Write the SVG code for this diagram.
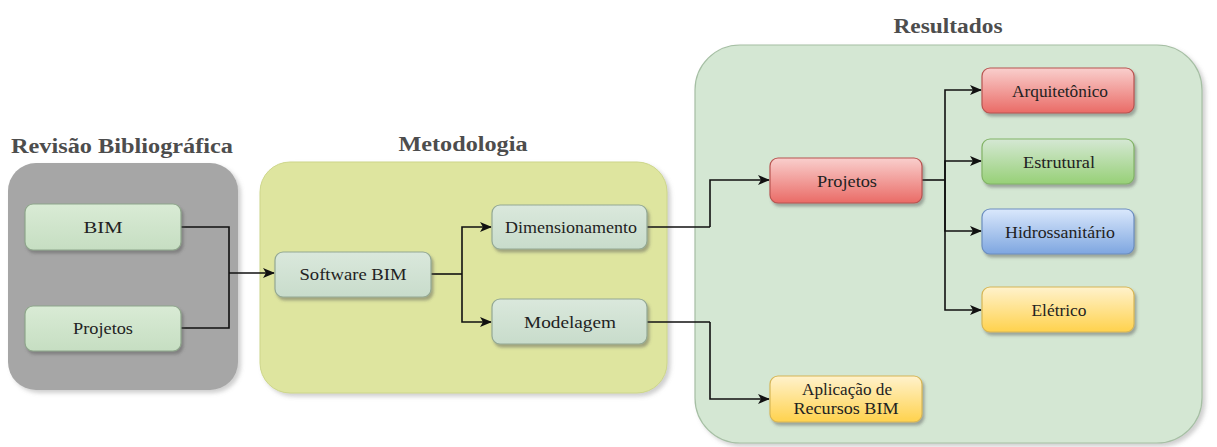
<svg xmlns="http://www.w3.org/2000/svg" width="1217" height="447" viewBox="0 0 1217 447">
  <defs>
    <style>
      .title { font-family: "Liberation Serif", "DejaVu Serif", serif; font-weight: bold; font-size: 20px; fill: #4d4d4d; text-anchor: middle; }
      .lbl { font-family: "Liberation Serif", "DejaVu Serif", serif; font-weight: normal; font-size: 17px; fill: #222222; text-anchor: middle; }
      .node { filter: url(#shadow); stroke-width: 1.2; }
      .pale { fill: url(#gPale); stroke: #8ea58b; }
      .paleb { fill: url(#gPaleB); stroke: #93a893; }
      .red { fill: url(#gRed); stroke: #b85450; }
      .green { fill: url(#gGreen); stroke: #82b366; }
      .blue { fill: url(#gBlue); stroke: #6c8ebf; }
      .yellow { fill: url(#gYellow); stroke: #d6b656; }
      .wire { fill: none; stroke: #111; stroke-width: 1.6; }
      .arrow { marker-end: url(#arrowHead); }
    </style>
    <filter id="shadow" x="-10%" y="-20%" width="130%" height="160%">
      <feDropShadow dx="2" dy="3" stdDeviation="1.5" flood-color="#555" flood-opacity="0.45"/>
    </filter>
    <filter id="softShadow" x="-5%" y="-5%" width="115%" height="115%">
      <feDropShadow dx="3" dy="3" stdDeviation="2" flood-color="#777" flood-opacity="0.35"/>
    </filter>
    <linearGradient id="gPale" x1="0" y1="0" x2="0" y2="1">
      <stop offset="0" stop-color="#d9ebd5"/>
      <stop offset="1" stop-color="#c6dec2"/>
    </linearGradient>
    <linearGradient id="gPaleB" x1="0" y1="0" x2="0" y2="1">
      <stop offset="0" stop-color="#dae8dc"/>
      <stop offset="1" stop-color="#c8dccb"/>
    </linearGradient>
    <linearGradient id="gRed" x1="0" y1="0" x2="0" y2="1">
      <stop offset="0" stop-color="#f9cfcd"/>
      <stop offset="1" stop-color="#ea6b66"/>
    </linearGradient>
    <linearGradient id="gGreen" x1="0" y1="0" x2="0" y2="1">
      <stop offset="0" stop-color="#d5e8d4"/>
      <stop offset="1" stop-color="#97d077"/>
    </linearGradient>
    <linearGradient id="gBlue" x1="0" y1="0" x2="0" y2="1">
      <stop offset="0" stop-color="#dae8fc"/>
      <stop offset="1" stop-color="#7ea6e0"/>
    </linearGradient>
    <linearGradient id="gYellow" x1="0" y1="0" x2="0" y2="1">
      <stop offset="0" stop-color="#fff2cc"/>
      <stop offset="1" stop-color="#ffd24d"/>
    </linearGradient>
    <marker id="arrowHead" viewBox="0 0 12 10" refX="11" refY="5" markerWidth="12" markerHeight="10" markerUnits="userSpaceOnUse" orient="auto">
      <path d="M0,0 L12,5 L0,10 L3,5 z" fill="#111"/>
    </marker>
  </defs>

  <rect width="1217" height="447" fill="#ffffff"/>

  <!-- Section containers -->
  <g id="revisao">
    <rect x="8" y="163" width="230" height="227" rx="28" fill="#a6a6a6" filter="url(#softShadow)"/>
    <text class="title" x="122" y="153" textLength="222" lengthAdjust="spacingAndGlyphs">Revisão Bibliográfica</text>
  </g>
  <g id="metodologia">
    <rect x="260" y="162" width="407" height="231" rx="30" fill="#dee59f" stroke="#cdd68a" stroke-width="1" filter="url(#softShadow)"/>
    <text class="title" x="463" y="151" textLength="129" lengthAdjust="spacingAndGlyphs">Metodologia</text>
  </g>
  <g id="resultados">
    <rect x="695" y="45" width="507" height="398" rx="45" fill="#d4e7d3" stroke="#a6bfa4" stroke-width="1.2" filter="url(#softShadow)"/>
    <text class="title" x="948" y="33" textLength="109" lengthAdjust="spacingAndGlyphs">Resultados</text>
  </g>

  <!-- Connectors -->
  <g id="connectors">
    <path class="wire" d="M181,227 H229 V328 H181"/>
    <path class="wire arrow" d="M229,273 H274"/>
    <path class="wire" d="M431,274 H462"/>
    <path class="wire arrow" d="M462,274 V227 H491"/>
    <path class="wire arrow" d="M462,274 V322 H491"/>
    <path class="wire" d="M647,227 H710"/>
    <path class="wire" d="M647,322 H710"/>
    <path class="wire arrow" d="M710,227 V180 H769"/>
    <path class="wire arrow" d="M710,322 V399 H769"/>
    <path class="wire" d="M922,180 H945"/>
    <path class="wire arrow" d="M945,180 V90 H981"/>
    <path class="wire arrow" d="M945,180 V161 H981"/>
    <path class="wire arrow" d="M945,180 V231 H981"/>
    <path class="wire arrow" d="M945,180 V310 H981"/>
  </g>

  <!-- Nodes -->
  <g id="n-bim">
    <rect class="node pale" x="25" y="204" width="156" height="46" rx="8"/>
    <text class="lbl" x="103" y="233" textLength="39" lengthAdjust="spacingAndGlyphs">BIM</text>
  </g>
  <g id="n-projetos-rev">
    <rect class="node pale" x="25" y="306" width="156" height="45" rx="8"/>
    <text class="lbl" x="103" y="334" textLength="60" lengthAdjust="spacingAndGlyphs">Projetos</text>
  </g>
  <g id="n-software">
    <rect class="node paleb" x="275" y="252" width="156" height="45" rx="8"/>
    <text class="lbl" x="353" y="280" textLength="107" lengthAdjust="spacingAndGlyphs">Software BIM</text>
  </g>
  <g id="n-dimensionamento">
    <rect class="node paleb" x="492" y="205" width="155" height="44" rx="8"/>
    <text class="lbl" x="571" y="233" textLength="132" lengthAdjust="spacingAndGlyphs">Dimensionamento</text>
  </g>
  <g id="n-modelagem">
    <rect class="node paleb" x="492" y="299" width="155" height="45" rx="8"/>
    <text class="lbl" x="570" y="327.5" textLength="92" lengthAdjust="spacingAndGlyphs">Modelagem</text>
  </g>
  <g id="n-projetos">
    <rect class="node red" x="770" y="158" width="152" height="45" rx="8"/>
    <text class="lbl" x="847" y="186.5" textLength="60" lengthAdjust="spacingAndGlyphs">Projetos</text>
  </g>
  <g id="n-arquitetonico">
    <rect class="node red" x="982" y="68" width="152" height="45" rx="8"/>
    <text class="lbl" x="1060" y="96.5" textLength="96" lengthAdjust="spacingAndGlyphs">Arquitetônico</text>
  </g>
  <g id="n-estrutural">
    <rect class="node green" x="982" y="139" width="152" height="45" rx="8"/>
    <text class="lbl" x="1059" y="167.5" textLength="72" lengthAdjust="spacingAndGlyphs">Estrutural</text>
  </g>
  <g id="n-hidrossanitario">
    <rect class="node blue" x="982" y="209" width="152" height="45" rx="8"/>
    <text class="lbl" x="1060" y="237.5" textLength="110" lengthAdjust="spacingAndGlyphs">Hidrossanitário</text>
  </g>
  <g id="n-eletrico">
    <rect class="node yellow" x="982" y="287" width="152" height="45" rx="8"/>
    <text class="lbl" x="1059" y="315.5" textLength="55" lengthAdjust="spacingAndGlyphs">Elétrico</text>
  </g>
  <g id="n-aplicacao">
    <rect class="node yellow" x="770" y="376" width="152" height="46" rx="8"/>
    <text class="lbl" x="847" y="395" textLength="90" lengthAdjust="spacingAndGlyphs">Aplicação de</text>
    <text class="lbl" x="846" y="414" textLength="105" lengthAdjust="spacingAndGlyphs">Recursos BIM</text>
  </g>
</svg>
